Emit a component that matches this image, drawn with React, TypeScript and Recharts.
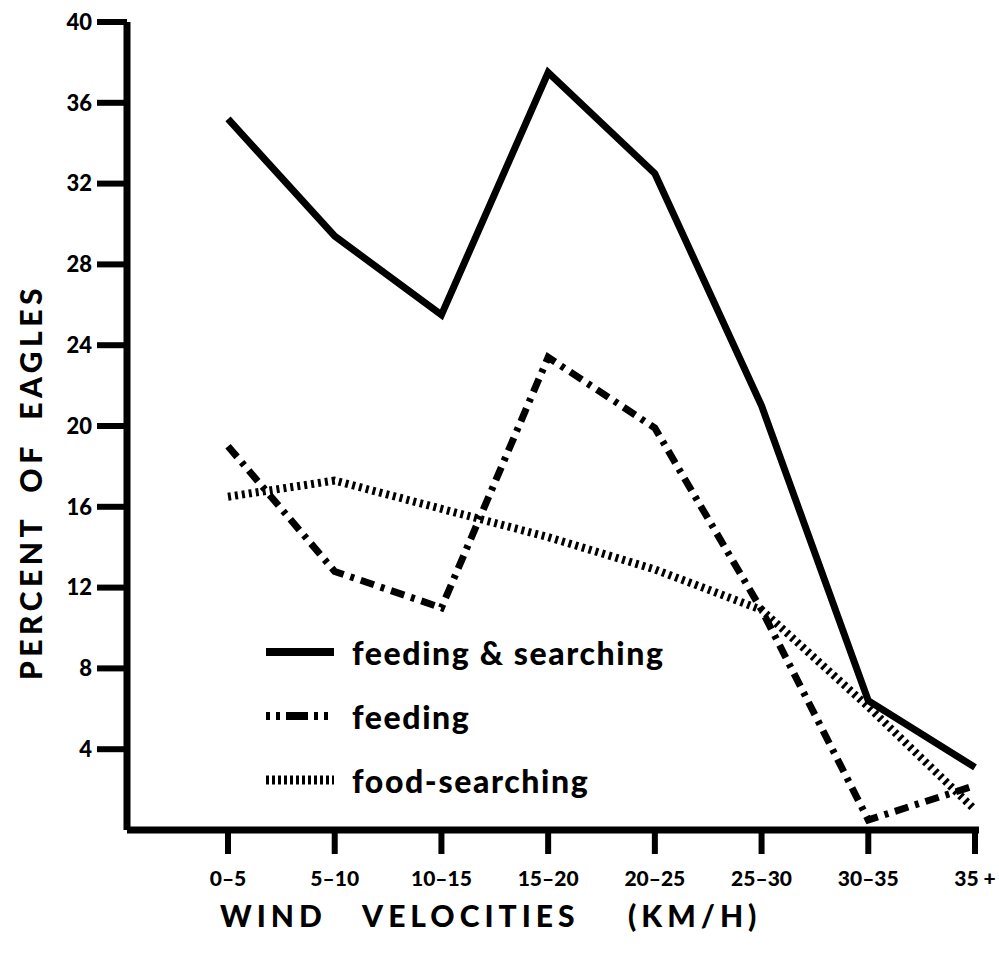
import React from 'react';
import { LineChart, Line, XAxis, YAxis, Legend } from 'recharts';

// wind velocity classes (km/h)
const categories = ['0–5', '5–10', '10–15', '15–20', '20–25', '25–30', '30–35', '35 +'];
// percent of eagles
const feedingSearching = [35.2, 29.4, 25.5, 37.5, 32.5, 21.0, 6.4, 3.1];
const feeding = [19.0, 12.8, 11.0, 23.4, 19.9, 10.9, 0.5, 2.2];
const foodSearching = [16.5, 17.3, 15.9, 14.5, 12.9, 10.9, 6.1, 1.0];
const yTicks = [4, 8, 12, 16, 20, 24, 28, 32, 36, 40];

const legendItems = [
  { label: 'feeding & searching', dash: undefined, width: 8 },
  { label: 'feeding', dash: '4 6 4 6 22 6 4 6 4 40', width: 8 },
  { label: 'food-searching', dash: '3 3', width: 9 },
];

const data = categories.map((range, i) => ({
  range,
  feedingSearching: feedingSearching[i],
  feeding: feeding[i],
  foodSearching: foodSearching[i],
}));

const FONT = 'Lato, "DejaVu Sans", sans-serif';

const LegendBox = () => (
  <div style={{ fontFamily: FONT }}>
    {legendItems.map((item) => (
      <div key={item.label} style={{ display: 'flex', alignItems: 'center', height: 64 }}>
        <svg width={72} height={20} style={{ marginRight: 16 }}>
          <line x1={2} y1={10} x2={70} y2={10} stroke="#000" strokeWidth={item.width} strokeDasharray={item.dash} />
        </svg>
        <span style={{ fontSize: 32, fontWeight: 900, letterSpacing: 1.6, color: '#000' }}>{item.label}</span>
      </div>
    ))}
  </div>
);

export default function App() {
  return (
    <div style={{ position: 'absolute', left: 0, top: 0, width: 999, height: 953, background: '#fff' }}>
      <LineChart width={999} height={953} data={data} margin={{ top: 22, right: 20, left: 0, bottom: 63 }}>
        <XAxis
          dataKey="range"
          height={60}
          padding={{ left: 101, right: 4 }}
          axisLine={{ stroke: '#000', strokeWidth: 7 }}
          tickLine={{ stroke: '#000', strokeWidth: 6 }}
          tickSize={24}
          tickMargin={17}
          interval={0}
          tick={{ fill: '#000', fontSize: 21, fontWeight: 900, fontFamily: FONT }}
        />
        <YAxis
          width={127}
          domain={[0, 40]}
          ticks={yTicks}
          axisLine={{ stroke: '#000', strokeWidth: 7 }}
          tickLine={{ stroke: '#000', strokeWidth: 6 }}
          tickSize={30}
          tickMargin={5}
          tick={{ fill: '#000', fontSize: 22, fontWeight: 900, fontFamily: FONT }}
        />
        <Legend
          layout="vertical"
          align="center"
          verticalAlign="middle"
          content={<LegendBox />}
          wrapperStyle={{ left: 264, top: 620, width: 460 }}
        />
        <Line type="linear" dataKey="feedingSearching" stroke="#000" strokeWidth={7} dot={false} isAnimationActive={false} />
        <Line type="linear" dataKey="feeding" stroke="#000" strokeWidth={7} strokeDasharray="14 7 4 7" dot={false} isAnimationActive={false} />
        <Line type="linear" dataKey="foodSearching" stroke="#000" strokeWidth={8} strokeDasharray="3 4" dot={false} isAnimationActive={false} />
      </LineChart>
      <div
        style={{
          position: 'absolute', left: 30 - 250, top: 482 - 20, width: 500, height: 40, lineHeight: '40px',
          textAlign: 'center', transform: 'rotate(-90deg)', fontFamily: FONT, fontWeight: 900,
          fontSize: 30, letterSpacing: 4.5, color: '#000', whiteSpace: 'pre',
        }}
      >
        PERCENT  OF  EAGLES
      </div>
      <div
        style={{
          position: 'absolute', left: 220, top: 895, height: 40, lineHeight: '40px', fontFamily: FONT,
          fontWeight: 900, fontSize: 30, letterSpacing: 5, color: '#000', whiteSpace: 'pre',
        }}
      >
        WIND   VELOCITIES    (KM/H)
      </div>
    </div>
  );
}
